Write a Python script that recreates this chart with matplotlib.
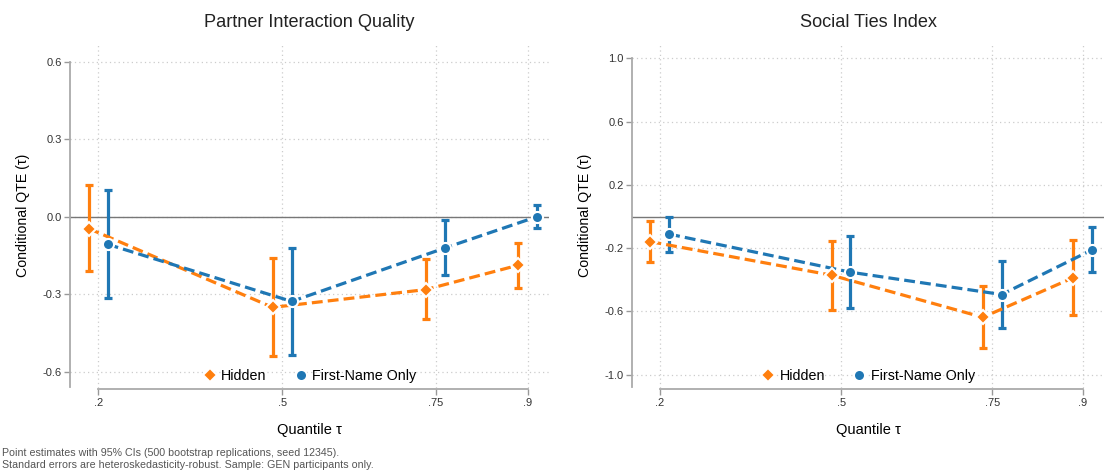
import matplotlib
matplotlib.use("Agg")
import matplotlib.pyplot as plt
from matplotlib.lines import Line2D

plt.rcParams["font.family"] = ["Liberation Sans", "DejaVu Sans"]
plt.rcParams["axes.unicode_minus"] = False

ORANGE = "#ff7f0e"
BLUE = "#1f77b4"

quantiles = [0.2, 0.5, 0.75, 0.9]
quantile_labels = [".2", ".5", ".75", ".9"]
dodge = 0.0155

# Partner Interaction Quality
piq_hidden = [-0.046, -0.351, -0.282, -0.188]
piq_hidden_lo = [-0.211, -0.541, -0.397, -0.275]
piq_hidden_hi = [0.121, -0.161, -0.165, -0.100]
piq_first = [-0.107, -0.328, -0.121, 0.000]
piq_first_lo = [-0.315, -0.536, -0.226, -0.042]
piq_first_hi = [0.104, -0.121, -0.014, 0.044]

# Social Ties Index
sti_hidden = [-0.159, -0.371, -0.637, -0.386]
sti_hidden_lo = [-0.287, -0.590, -0.832, -0.624]
sti_hidden_hi = [-0.030, -0.152, -0.442, -0.148]
sti_first = [-0.111, -0.352, -0.493, -0.210]
sti_first_lo = [-0.223, -0.581, -0.703, -0.349]
sti_first_hi = [0.000, -0.122, -0.283, -0.066]

panels = [
    ("Partner Interaction Quality", [0.6, 0.3, 0.0, -0.3, -0.6],
     ["0.6", "0.3", "0.0", "-0.3", "-0.6"], (-0.663, 0.672),
     (piq_hidden, piq_hidden_lo, piq_hidden_hi),
     (piq_first, piq_first_lo, piq_first_hi)),
    ("Social Ties Index", [1.0, 0.6, 0.2, -0.2, -0.6, -1.0],
     ["1.0", "0.6", "0.2", "-0.2", "-0.6", "-1.0"], (-1.084, 1.097),
     (sti_hidden, sti_hidden_lo, sti_hidden_hi),
     (sti_first, sti_first_lo, sti_first_hi)),
]

fig = plt.figure(figsize=(11.06, 4.75), dpi=100)
axes_rects = [[70 / 1106, 1 - 388 / 475, 479 / 1106, 345 / 475],
              [632 / 1106, 1 - 388 / 475, 472 / 1106, 345 / 475]]


def draw_series(ax, x, est, lo, hi, color, marker, msize):
    yerr = [[e - l for e, l in zip(est, lo)], [h - e for e, h in zip(est, hi)]]
    ax.errorbar(x, est, yerr=yerr, fmt="none", ecolor=color, elinewidth=2.3,
                capsize=3.0, capthick=2.3, zorder=3)
    ax.plot(x, est, color=color, lw=2.3, dashes=(3.4, 1.6), zorder=4)
    ax.plot(x, est, linestyle="none", marker=marker, markersize=msize,
            markerfacecolor=color, markeredgecolor="white",
            markeredgewidth=1.5, zorder=5)


for i, (title, yticks, ylabels, ylim, hidden, first) in enumerate(panels):
    ax = fig.add_axes(axes_rects[i])
    ax.set_xlim(0.154, 0.935)
    ax.set_ylim(*ylim)

    ax.axhline(0, color="#777777", lw=1.0, zorder=2)

    xh = [q - dodge for q in quantiles]
    xf = [q + dodge for q in quantiles]
    draw_series(ax, xh, *hidden, ORANGE, "D", 7)
    draw_series(ax, xf, *first, BLUE, "o", 8)

    ax.set_yticks(yticks)
    ax.set_yticklabels(ylabels)
    ax.set_xticks(quantiles)
    ax.set_xticklabels(quantile_labels)
    ax.grid(True, color="#cccccc", linestyle=(0, (1, 2.5)), lw=0.9)
    ax.set_axisbelow(True)

    for side in ["top", "right"]:
        ax.spines[side].set_visible(False)
    ax.spines["left"].set_color("#aaaaaa")
    ax.spines["left"].set_linewidth(1.3)
    ax.spines["left"].set_bounds(ylim[0] + (ylim[1] - ylim[0]) * 0.004, yticks[0])
    ax.spines["bottom"].set_color("#aaaaaa")
    ax.spines["bottom"].set_linewidth(1.3)
    ax.spines["bottom"].set_bounds(quantiles[0], quantiles[-1])
    ax.spines["bottom"].set_position(("outward", 1))
    ax.tick_params(axis="both", colors="#999999", labelcolor="#333333",
                   labelsize=8, length=4, width=1.0, pad=2)

    ax.set_ylabel("Conditional QTE (τ)", fontsize=10.2, labelpad=9)
    ax.set_xlabel("Quantile τ", fontsize=10.5, labelpad=11)
    ax.set_title(title, fontsize=13.1, color="#222222", pad=0, y=1.045)

    handles = [
        Line2D([], [], linestyle="none", marker="D", markersize=7,
               markerfacecolor=ORANGE, markeredgecolor="white",
               markeredgewidth=1.5, label="Hidden"),
        Line2D([], [], linestyle="none", marker="o", markersize=8,
               markerfacecolor=BLUE, markeredgecolor="white",
               markeredgewidth=1.5, label="First-Name Only"),
    ]
    ax.legend(handles=handles, loc="lower center", bbox_to_anchor=(0.5, -0.022),
              ncol=2, frameon=False, fontsize=10.3, handletextpad=0.3,
              columnspacing=1.9, handlelength=1.0)

fig.text(0.002, 1 - 448 / 475,
         "Point estimates with 95% CIs (500 bootstrap replications, seed 12345).\n"
         "Standard errors are heteroskedasticity-robust. Sample: GEN participants only.",
         fontsize=7.7, color="#555555", ha="left", va="top", linespacing=1.3)

fig.savefig("out.png", dpi=100)
